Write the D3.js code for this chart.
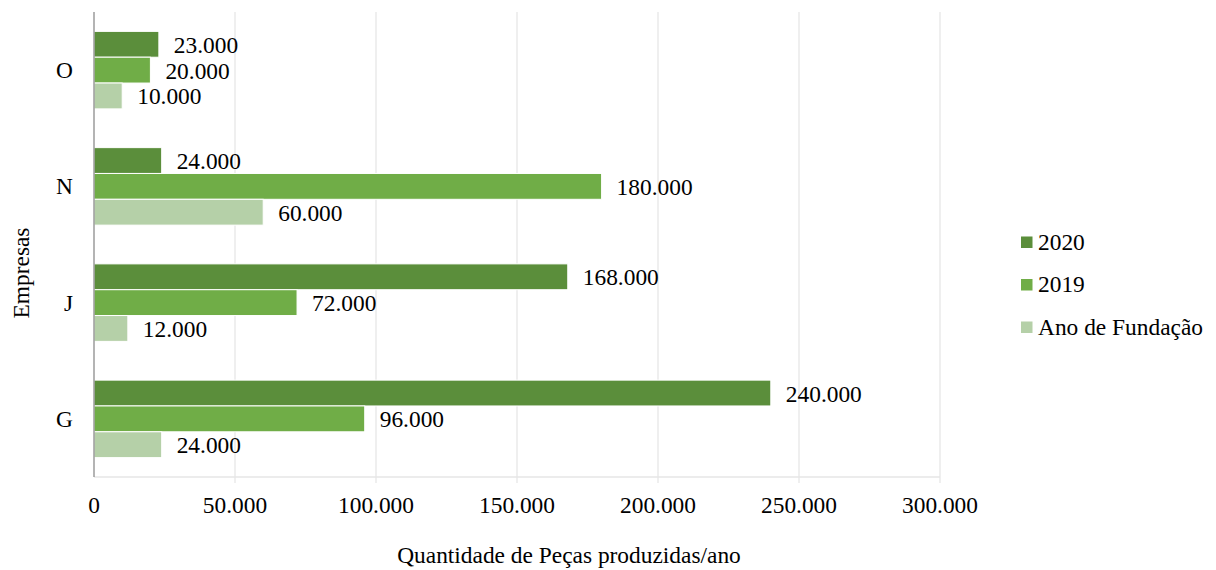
<!DOCTYPE html>
<html>
<head>
<meta charset="utf-8">
<script src="https://cdn.jsdelivr.net/npm/d3@7"></script>
<style>
  body { margin: 0; background: #fff; }
  svg { display: block; }
  text { font-family: "Liberation Serif", "Times New Roman", serif; fill: #000; }
</style>
</head>
<body>
<svg id="chart" width="1216" height="570"></svg>
<script>
const categories = ["O", "N", "J", "G"];
const seriesNames = ["2020", "2019", "Ano de Fundação"];
const values2020 = [23000, 24000, 168000, 240000];
const values2019 = [20000, 180000, 72000, 96000];
const valuesFundacao = [10000, 60000, 12000, 24000];
const xTicks = [0, 50000, 100000, 150000, 200000, 250000, 300000];
const xTickLabels = ["0", "50.000", "100.000", "150.000", "200.000", "250.000", "300.000"];
const colors = ["#5b8e3b", "#70ad47", "#b5d0a8"];

const seriesValues = [values2020, values2019, valuesFundacao];
const fmt = v => d3.format(",")(v).replace(/,/g, ".");
const FS = 23.4;

const svg = d3.select("#chart");
const plotL = 94, plotR = 940, plotT = 12, plotB = 477;

const x = d3.scaleLinear().domain([0, 300000]).range([plotL, plotR]);
const y = d3.scaleBand().domain(categories).range([plotT, plotB]).paddingInner(1/3).paddingOuter(1/6);
const ySub = d3.scaleBand().domain(seriesNames).range([0, y.bandwidth()]);

// gridlines
svg.append("g").selectAll("line").data(xTicks.slice(1)).join("line")
  .attr("x1", d => x(d)).attr("x2", d => x(d))
  .attr("y1", plotT).attr("y2", plotB + 6)
  .attr("stroke", "#e6e6e6").attr("stroke-width", 1.3);
// bottom line
svg.append("line").attr("x1", plotL).attr("x2", plotR).attr("y1", plotB).attr("y2", plotB)
  .attr("stroke", "#e6e6e6").attr("stroke-width", 1.3);

// bars
const rows = [];
categories.forEach((c, i) => {
  seriesNames.forEach((s, j) => rows.push({cat: c, series: s, j, value: seriesValues[j][i]}));
});
svg.append("g").selectAll("rect").data(rows).join("rect")
  .attr("x", x(0))
  .attr("y", d => y(d.cat) + ySub(d.series))
  .attr("width", d => x(d.value) - x(0))
  .attr("height", ySub.bandwidth())
  .attr("fill", d => colors[d.j])
  .attr("stroke", "#fff").attr("stroke-width", 1);

// value labels
svg.append("g").selectAll("text").data(rows).join("text")
  .attr("x", d => x(d.value) + 15)
  .attr("y", d => y(d.cat) + ySub(d.series) + ySub.bandwidth() / 2 + 8.5)
  .attr("font-size", FS)
  .text(d => fmt(d.value));

// y axis line
svg.append("line").attr("x1", plotL).attr("x2", plotL).attr("y1", plotT).attr("y2", plotB)
  .attr("stroke", "#8c8c8c").attr("stroke-width", 1.3);

// category labels
svg.append("g").selectAll("text").data(categories).join("text")
  .attr("x", plotL - 21)
  .attr("y", d => y(d) + y.bandwidth() / 2 + 8)
  .attr("text-anchor", "end")
  .attr("font-size", FS)
  .text(d => d);

// x tick labels
svg.append("g").selectAll("text").data(xTicks).join("text")
  .attr("x", d => x(d))
  .attr("y", 513)
  .attr("text-anchor", "middle")
  .attr("font-size", FS)
  .text((d, i) => xTickLabels[i]);

// axis titles
svg.append("text").attr("x", 569).attr("y", 563).attr("text-anchor", "middle")
  .attr("font-size", FS).text("Quantidade de Peças produzidas/ano");
svg.append("text").attr("transform", "translate(29,273) rotate(-90)").attr("text-anchor", "middle")
  .attr("font-size", FS).text("Empresas");

// legend
const legend = svg.append("g").selectAll("g").data(seriesNames).join("g")
  .attr("transform", (d, i) => `translate(1021,${236.5 + i * 42.5})`);
legend.append("rect").attr("width", 11.5).attr("height", 11.5).attr("fill", (d, i) => colors[i]);
legend.append("text").attr("x", 17).attr("y", 13).attr("font-size", FS).text(d => d);
</script>
</body>
</html>
